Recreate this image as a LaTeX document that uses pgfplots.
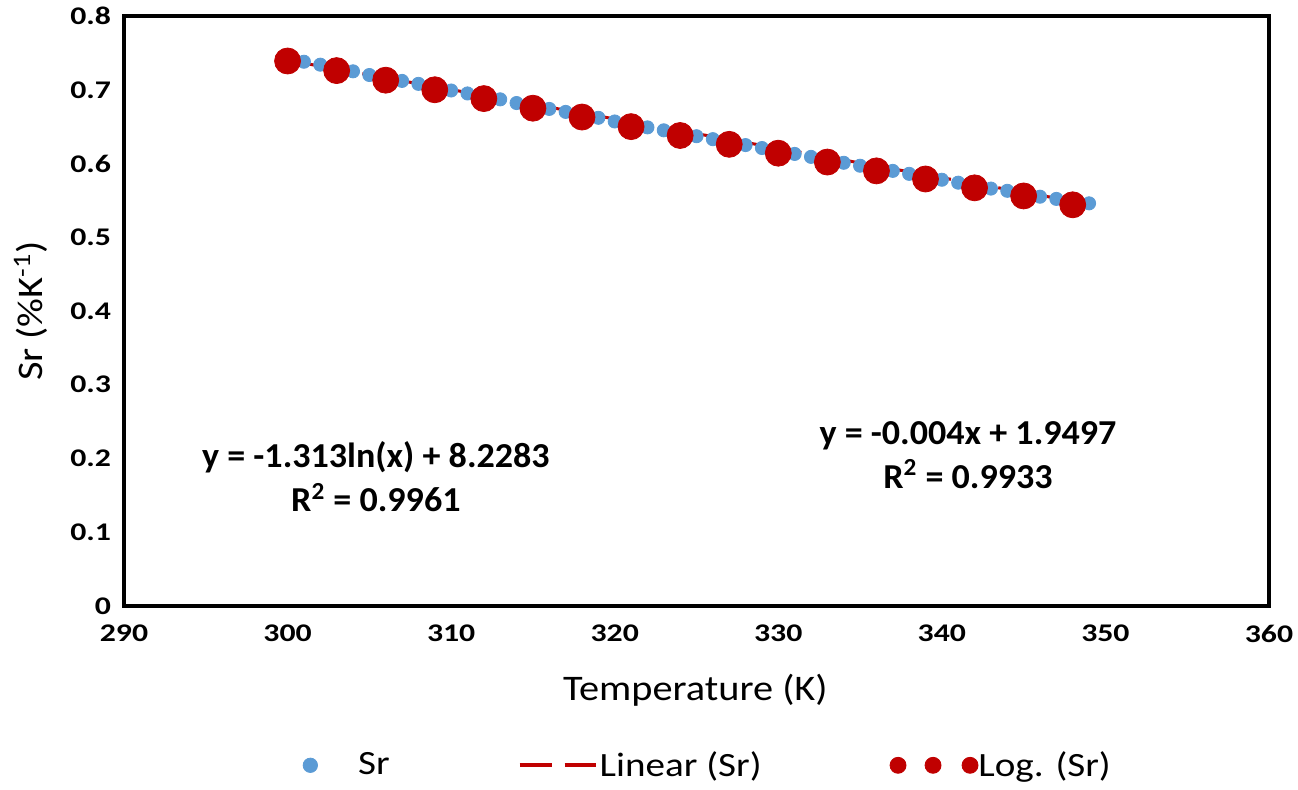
\documentclass[border=0pt]{standalone}
\usepackage{fontspec}
\setmainfont{Carlito}
\newfontfamily\tickfont{Carlito}[FakeStretch=1.25]
\newfontfamily\labfont{Carlito}[FakeStretch=1.12]
\newfontfamily\eqfont{Carlito}[FakeStretch=1.03]
\newfontfamily\legfont{Carlito}[FakeStretch=1.15]
\usepackage{pgfplots}
\pgfplotsset{compat=1.18}
\definecolor{srblue}{HTML}{5B9BD5}
\definecolor{trred}{HTML}{C00000}
\begin{document}
\begin{tikzpicture}
\begin{axis}[
  name=ax,
  scale only axis,
  width=572.5pt, height=295pt,
  xmin=290, xmax=360, ymin=0, ymax=0.8,
  xtick={290,300,...,360},
  ytick={0,0.1,...,0.8},
  yticklabel style={/pgf/number format/fixed,/pgf/number format/precision=1},
  /pgf/number format/assume math mode=true,
  tick label style={font=\tickfont\bfseries\fontsize{12.7}{15}\selectfont},
  major tick length=0pt,
  xticklabel style={yshift=-6pt},
  yticklabel style={xshift=-3pt},
  axis line style={line width=1.6pt},
  xlabel={Temperature (K)},
  ylabel={Sr (\%K\textsuperscript{-1})},
  label style={font=\labfont\fontsize{18}{20}\selectfont},
  xlabel style={at={(axis description cs:0.499,-0.142)},anchor=center},
  ylabel style={at={(axis description cs:-0.0815,0.5)},anchor=center},
  legend columns=3,
  legend style={at={(axis description cs:0.509,-0.27)},anchor=center,draw=none,
    font=\legfont\fontsize{17}{19}\selectfont,
    nodes={inner xsep=0pt},
    /tikz/every even column/.append style={column sep=64pt}},
  clip=false,
]
% measured Sr
\addplot[only marks, mark=*, mark size=3.3pt, srblue, mark options={draw=none,fill=srblue},
  legend image code/.code={
    \path[draw=none,fill=none] (0pt,0pt) rectangle (27.5pt,0pt);
    \fill[srblue] (3.6pt,0pt) circle (3.6pt);}] coordinates {
(300,0.742)(301,0.738)(302,0.734)(303,0.729)(304,0.725)(305,0.720)
(306,0.716)(307,0.712)(308,0.708)(309,0.703)(310,0.699)(311,0.695)
(312,0.691)(313,0.687)(314,0.682)(315,0.678)(316,0.674)(317,0.670)
(318,0.666)(319,0.662)(320,0.657)(321,0.653)(322,0.649)(323,0.645)
(324,0.641)(325,0.637)(326,0.633)(327,0.629)(328,0.625)(329,0.621)
(330,0.617)(331,0.613)(332,0.609)(333,0.605)(334,0.601)(335,0.597)
(336,0.593)(337,0.590)(338,0.586)(339,0.582)(340,0.578)(341,0.574)
(342,0.570)(343,0.566)(344,0.563)(345,0.559)(346,0.555)(347,0.552)
(348,0.548)(349,0.546)
};
\addlegendentry{Sr}
% linear trend
\addplot[trred, line width=1.5pt, dash pattern=on 14pt off 5pt,
  legend image code/.code={
    \path[draw=none,fill=none] (0pt,0pt) rectangle (40pt,0pt);
    \draw[trred,line width=2pt,solid] (0pt,0pt) -- (16pt,0pt) (22.5pt,0pt) -- (38pt,0pt);}] coordinates {
(300,0.740)(349,0.545)
};
\addlegendentry{Linear (Sr)}
% log trend
\addplot[only marks, mark=*, mark size=6.5pt, trred, mark options={draw=none,fill=trred},
  legend image code/.code={
    \path[draw=none,fill=none] (0pt,0pt) rectangle (44pt,0pt);
    \fill[trred] (4pt,0pt) circle (4pt);
    \fill[trred] (21.5pt,0pt) circle (4pt);
    \fill[trred] (40pt,0pt) circle (4pt);}] coordinates {
(300,0.739)(303,0.726)(306,0.713)(309,0.700)(312,0.688)(315,0.675)
(318,0.663)(321,0.650)(324,0.638)(327,0.626)(330,0.614)(333,0.602)
(336,0.590)(339,0.579)(342,0.567)(345,0.556)(348,0.544)
};
\addlegendentry{Log. (Sr)}
\node[font=\eqfont\bfseries\fontsize{17.5}{22}\selectfont,align=center] at (axis cs:305.4,0.175)
  {y = -1.313ln(x) + 8.2283\\R\textsuperscript{2} = 0.9961};
\node[font=\eqfont\bfseries\fontsize{17.5}{22}\selectfont,align=center] at (axis cs:341.6,0.205)
  {y = -0.004x + 1.9497\\R\textsuperscript{2} = 0.9933};
\end{axis}
\pgfresetboundingbox
\path (-62pt,-91.5pt) rectangle (587pt,303pt);
\end{tikzpicture}
\end{document}
